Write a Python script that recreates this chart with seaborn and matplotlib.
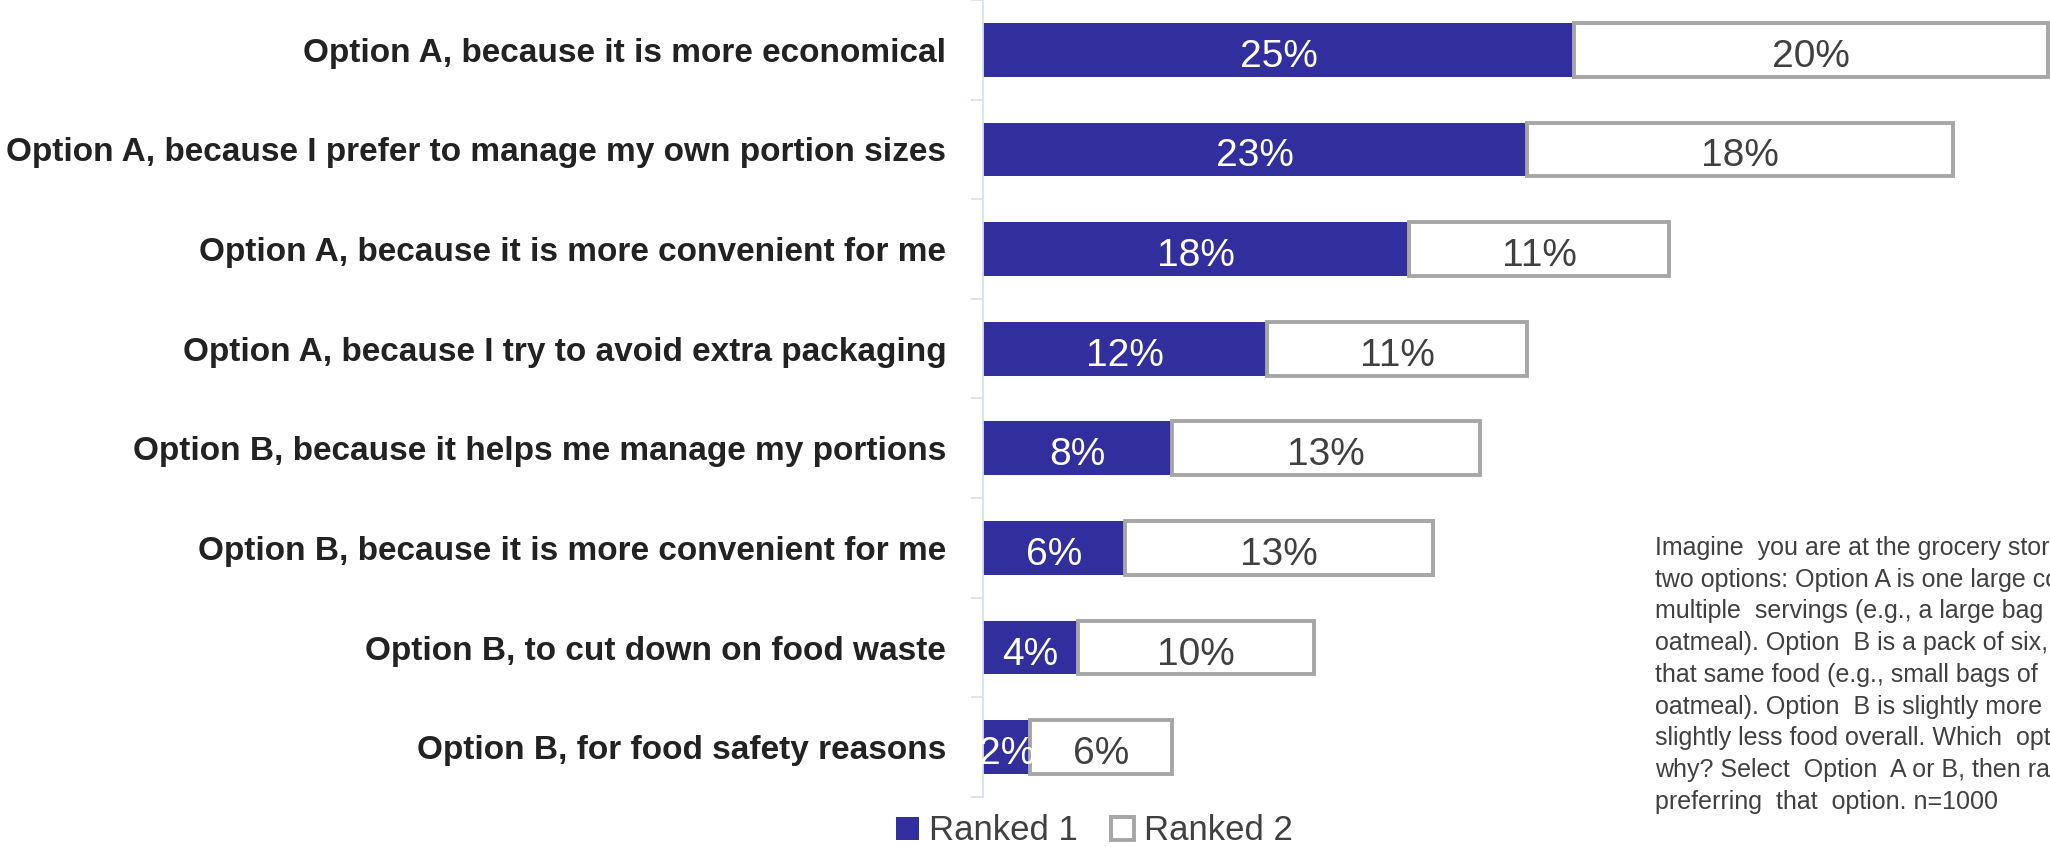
import numpy as np
import matplotlib
matplotlib.use("Agg")
import matplotlib.pyplot as plt
from matplotlib.patches import Patch
import seaborn as sns

# Reasons for choosing a package size, share of respondents (%)
categories = [
    "Option A, because it is more economical",
    "Option A, because I prefer to manage my own portion sizes",
    "Option A, because it is more convenient for me",
    "Option A, because I try to avoid extra packaging",
    "Option B, because it helps me manage my portions",
    "Option B, because it is more convenient for me",
    "Option B, to cut down on food waste",
    "Option B, for food safety reasons",
]
ranked_1 = [25, 23, 18, 12, 8, 6, 4, 2]
ranked_2 = [20, 18, 11, 11, 13, 13, 10, 6]
series_names = ["Ranked 1", "Ranked 2"]

note_lines = [
    "Imagine  you are at the grocery store and you see",
    "two options: Option A is one large container with",
    "multiple  servings (e.g., a large bag of",
    "oatmeal). Option  B is a pack of six, single-serve portions of",
    "that same food (e.g., small bags of",
    "oatmeal). Option  B is slightly more expensive and",
    "slightly less food overall. Which  option would you choose and",
    "why? Select  Option  A or B, then rank your top reasons for",
    "preferring  that  option. n=1000",
]

BLUE = "#312E9E"
GRAY_EDGE = "#A6A6A6"
AXIS_BLUE = "#D5E1F0"
TEXT_DARK = "#222222"
TEXT_GRAY = "#404040"

sns.set_style("white")
plt.rcParams["font.family"] = ["Liberation Sans", "DejaVu Sans"]

W, H = 2050, 847
fig = plt.figure(figsize=(W / 100, H / 100), dpi=100)
ax_left, ax_bottom = 983 / W, 1 - 797 / H
ax = fig.add_axes([ax_left, ax_bottom, 1 - ax_left, 1 - ax_bottom])

# Ranked 1 segments
sns.barplot(x=ranked_1, y=categories, orient="h", color=BLUE, saturation=1,
            width=0.54, linewidth=0, ax=ax)

# Ranked 2 segments stacked after the Ranked 1 segment
ypos = np.arange(len(categories))
ax.barh(ypos, ranked_2, left=ranked_1, height=0.54, color="white",
        edgecolor=GRAY_EDGE, linewidth=2.8, zorder=3)

# Value labels
for i, (a, b) in enumerate(zip(ranked_1, ranked_2)):
    ax.text(a / 2, i + 0.03, f"{a}%", ha="center", va="center_baseline",
            color="white", fontsize=28, zorder=5)
    ax.text(a + b / 2, i + 0.03, f"{b}%", ha="center", va="center_baseline",
            color=TEXT_GRAY, fontsize=28, zorder=5)

ax.set_xlim(0, 45.1)
ax.set_ylim(len(categories) - 0.5, -0.5)
ax.set_xlabel("")
ax.set_ylabel("")
ax.set_xticks([])

for side in ("top", "right", "bottom"):
    ax.spines[side].set_visible(False)
ax.spines["left"].set_color(AXIS_BLUE)
ax.spines["left"].set_linewidth(1.3)

ax.set_yticks(np.arange(-0.5, len(categories), 1), minor=True)
ax.tick_params(axis="y", which="minor", length=8.6, width=1.3,
               color=AXIS_BLUE, direction="out", left=True)
ax.tick_params(axis="y", which="major", length=0, pad=26.5)
for lbl in ax.get_yticklabels():
    lbl.set_fontweight("bold")
    lbl.set_fontsize(24)
    lbl.set_color(TEXT_DARK)

# Legend below the bars
handles = [
    Patch(facecolor=BLUE, edgecolor=BLUE, linewidth=0),
    Patch(facecolor="white", edgecolor=GRAY_EDGE, linewidth=2.8),
]
fig.legend(handles, series_names, loc="center", bbox_to_anchor=(0.534, 0.019),
           ncol=2, frameon=False, fontsize=25, labelcolor=TEXT_GRAY,
           handlelength=0.65, handleheight=0.65, handletextpad=0.3,
           columnspacing=0.95, borderaxespad=0, borderpad=0)

# Question wording
for k, line in enumerate(note_lines):
    fig.text(1655 / W, 1 - (555 + 31.7 * k) / H, line, ha="left",
             va="baseline", fontsize=18, color=TEXT_GRAY)

fig.savefig("out.png", dpi=100)
